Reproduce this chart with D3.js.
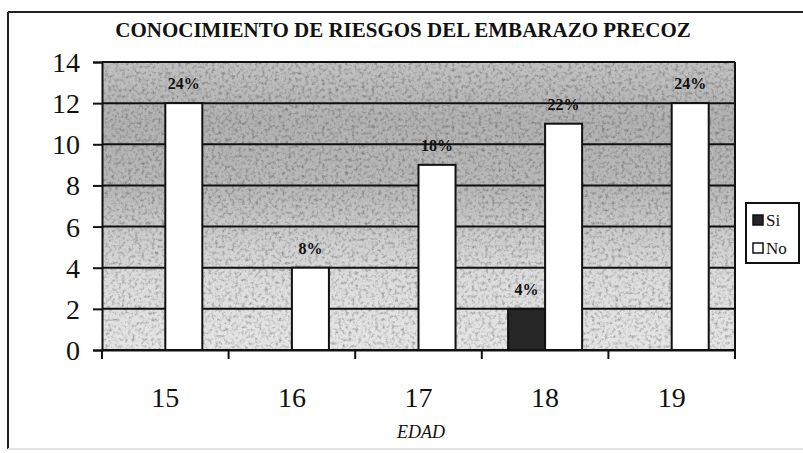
<!DOCTYPE html>
<html>
<head>
<meta charset="utf-8">
<script src="https://cdn.jsdelivr.net/npm/d3@7/dist/d3.min.js"></script>
<style>
  body { margin: 0; background: #fff; }
  text { font-family: "Liberation Serif", "Times New Roman", serif; fill: #111; }
  .title { font-weight: bold; font-size: 21px; }
  .tick text { font-size: 28px; font-family: "Liberation Serif", serif; }
  .pct { font-weight: bold; font-size: 16px; }
  .leg { font-size: 17px; }
  .xlab { font-style: italic; font-size: 18px; }
</style>
</head>
<body>
<div id="chart"></div>
<script>
// datos
var edades = ["15", "16", "17", "18", "19"];
var series = ["Si", "No"];
var valoresSi = [0, 0, 0, 2, 0];
var valoresNo = [12, 4, 9, 11, 12];
var etiquetasSi = ["", "", "", "4%", ""];
var etiquetasNo = ["24%", "8%", "18%", "22%", "24%"];
var yTicks = [0, 2, 4, 6, 8, 10, 12, 14];

var W = 803, H = 453;
var margin = {top: 62, right: 68, bottom: 103, left: 102},
    width = W - margin.left - margin.right,
    height = H - margin.top - margin.bottom;

var svg = d3.select("#chart")
  .append("svg")
    .attr("width", W)
    .attr("height", H);

var defs = svg.append("defs");

var grad = defs.append("linearGradient")
    .attr("id", "fondo")
    .attr("x1", 0).attr("y1", 0).attr("x2", 0).attr("y2", 1);
[[0, "#c2c2c2"], [0.2, "#b2b2b2"], [0.45, "#bababa"], [0.6, "#cdcdcd"], [0.75, "#dddddd"], [1, "#e6e6e6"]]
  .forEach(function(s){
    grad.append("stop").attr("offset", s[0]).attr("stop-color", s[1]);
  });

var filt = defs.append("filter")
    .attr("id", "grano")
    .attr("x", 0).attr("y", 0).attr("width", 1).attr("height", 1);
filt.append("feTurbulence")
    .attr("type", "fractalNoise")
    .attr("baseFrequency", 0.3)
    .attr("numOctaves", 3)
    .attr("seed", 7)
    .attr("result", "ruido");
filt.append("feColorMatrix")
    .attr("in", "ruido")
    .attr("type", "matrix")
    .attr("values", "0 0 0 0 0  0 0 0 0 0  0 0 0 0 0  0 0 0 -1.3 0.72")
    .attr("result", "puntos");
filt.append("feComposite")
    .attr("in", "puntos")
    .attr("in2", "SourceGraphic")
    .attr("operator", "over");

// marco exterior
svg.append("line").attr("x1", 8).attr("x2", W).attr("y1", 12).attr("y2", 12)
    .attr("stroke", "#222").attr("stroke-width", 2);
svg.append("line").attr("x1", 8).attr("x2", 8).attr("y1", 12).attr("y2", 449)
    .attr("stroke", "#222").attr("stroke-width", 2);
svg.append("line").attr("x1", 8).attr("x2", W).attr("y1", 449).attr("y2", 449)
    .attr("stroke", "#e4e4e4").attr("stroke-width", 2);

svg.append("text")
    .attr("class", "title")
    .attr("x", 403)
    .attr("y", 37)
    .attr("text-anchor", "middle")
    .text("CONOCIMIENTO DE RIESGOS DEL EMBARAZO PRECOZ");

var g = svg.append("g")
    .attr("transform", "translate(" + margin.left + "," + margin.top + ")");

var x0 = d3.scaleBand()
    .domain(edades)
    .range([0, width]);

var x1 = d3.scaleBand()
    .domain(series)
    .range([0, x0.bandwidth()])
    .paddingOuter(0.71);

var y = d3.scaleLinear()
    .domain([0, 14])
    .range([height, 0]);

// fondo del area de trazado
g.append("rect")
    .attr("width", width)
    .attr("height", height)
    .attr("fill", "url(#fondo)")
    .attr("filter", "url(#grano)");

// lineas de division
g.append("g")
  .selectAll("line")
  .data(yTicks)
  .enter()
  .append("line")
    .attr("x1", 0)
    .attr("x2", width)
    .attr("y1", function(d){ return y(d); })
    .attr("y2", function(d){ return y(d); })
    .attr("stroke", "#111")
    .attr("stroke-width", 2);

g.append("line")
    .attr("x1", width).attr("x2", width)
    .attr("y1", 0).attr("y2", height)
    .attr("stroke", "#111").attr("stroke-width", 2);

var filas = edades.map(function(e, i){
  return {edad: e, valores: [
    {serie: "Si", v: valoresSi[i], et: etiquetasSi[i]},
    {serie: "No", v: valoresNo[i], et: etiquetasNo[i]}
  ]};
});

var grupos = g.append("g")
  .selectAll("g")
  .data(filas)
  .enter()
  .append("g")
    .attr("transform", function(d){ return "translate(" + x0(d.edad) + ",0)"; });

grupos.selectAll("rect")
  .data(function(d){ return d.valores.filter(function(b){ return b.v > 0; }); })
  .enter()
  .append("rect")
    .attr("x", function(d){ return x1(d.serie); })
    .attr("y", function(d){ return y(d.v); })
    .attr("width", x1.bandwidth())
    .attr("height", function(d){ return height - y(d.v); })
    .attr("fill", function(d){ return d.serie == "Si" ? "#262626" : "#ffffff"; })
    .attr("stroke", "#111")
    .attr("stroke-width", 2);

grupos.selectAll("text")
  .data(function(d){ return d.valores.filter(function(b){ return b.v > 0; }); })
  .enter()
  .append("text")
    .attr("class", "pct")
    .attr("text-anchor", "middle")
    .attr("x", function(d){ return x1(d.serie) + x1.bandwidth() / 2; })
    .attr("y", function(d){ return y(d.v) - 14; })
    .text(function(d){ return d.et; });

// eje y
var ejeY = g.append("g")
    .attr("font-family", "Liberation Serif")
    .call(d3.axisLeft(y).tickValues(yTicks).tickSize(9).tickPadding(13));
ejeY.attr("font-family", "Liberation Serif");
ejeY.select(".domain").attr("stroke", "#111").attr("stroke-width", 2);
ejeY.selectAll(".tick line").attr("stroke", "#111").attr("stroke-width", 2);
ejeY.selectAll(".tick text").attr("dy", "0.34em");

// eje x: etiquetas al centro, marcas entre categorias
var ejeX = g.append("g")
    .attr("transform", "translate(0," + height + ")")
    .call(d3.axisBottom(x0).tickSize(0).tickPadding(37));
ejeX.attr("font-family", "Liberation Serif");
ejeX.select(".domain").attr("stroke", "#111").attr("stroke-width", 2);

var bordes = edades.map(function(e){ return x0(e); }).concat([width]);
ejeX.selectAll(".marca")
  .data(bordes)
  .enter()
  .append("line")
    .attr("class", "marca")
    .attr("x1", function(d){ return d; })
    .attr("x2", function(d){ return d; })
    .attr("y1", 0)
    .attr("y2", 9)
    .attr("stroke", "#111")
    .attr("stroke-width", 2);

svg.append("text")
    .attr("class", "xlab")
    .attr("x", 421)
    .attr("y", 438)
    .attr("text-anchor", "middle")
    .text("EDAD");

// leyenda
var ley = svg.append("g").attr("transform", "translate(746,203)");
ley.append("rect")
    .attr("width", 53).attr("height", 60)
    .attr("fill", "#fff").attr("stroke", "#111").attr("stroke-width", 2);
series.forEach(function(s, i){
  ley.append("rect")
      .attr("x", 7).attr("y", 12 + i * 28)
      .attr("width", 10).attr("height", 10)
      .attr("fill", s == "Si" ? "#262626" : "#fff")
      .attr("stroke", "#111").attr("stroke-width", 1.5);
  ley.append("text")
      .attr("class", "leg")
      .attr("x", 20).attr("y", 23 + i * 28)
      .text(s);
});
</script>
</body>
</html>
